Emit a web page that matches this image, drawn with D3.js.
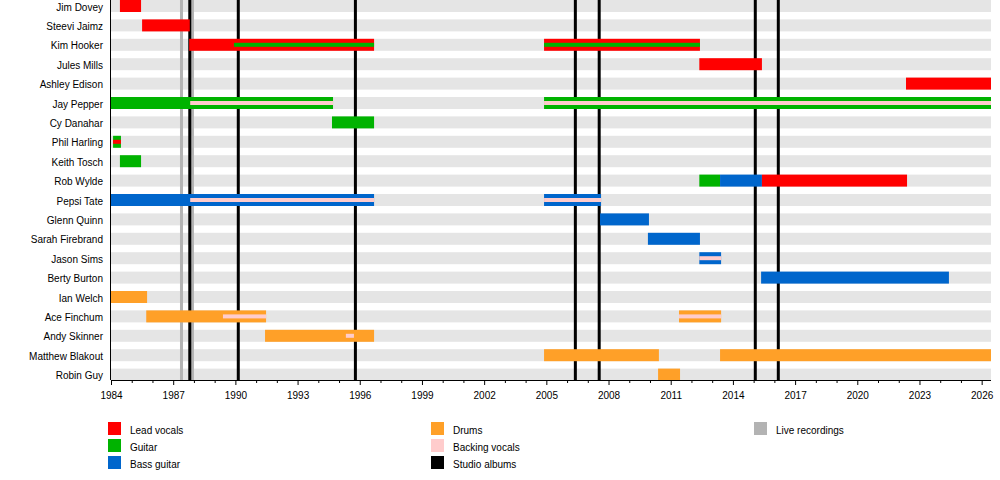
<!DOCTYPE html>
<html>
<head>
<meta charset="utf-8">
<script src="https://cdn.jsdelivr.net/npm/d3@7/dist/d3.min.js"></script>
<style>
  body { margin: 0; background: #fff; }
  svg text { font-family: "Liberation Sans", Arial, sans-serif; font-size: 10px; fill: #000; }
</style>
</head>
<body>
<div id="chart"></div>
<script>
// 成员（从上到下）
const members = [
  'Jim Dovey', 'Steevi Jaimz', 'Kim Hooker', 'Jules Mills', 'Ashley Edison',
  'Jay Pepper', 'Cy Danahar', 'Phil Harling', 'Keith Tosch', 'Rob Wylde',
  'Pepsi Tate', 'Glenn Quinn', 'Sarah Firebrand', 'Jason Sims', 'Berty Burton',
  'Ian Welch', 'Ace Finchum', 'Andy Skinner', 'Matthew Blakout', 'Robin Guy'
];

const END = 2026.45;

// [成员, 角色, 开始, 结束]  — 主条
const mainStints = [
  ['Jim Dovey', 'vocals', 1984.43, 1985.45],
  ['Steevi Jaimz', 'vocals', 1985.5, 1987.8],
  ['Kim Hooker', 'vocals', 1987.77, 1996.69],
  ['Kim Hooker', 'vocals', 2004.89, 2012.41],
  ['Jules Mills', 'vocals', 2012.38, 2015.4],
  ['Ashley Edison', 'vocals', 2022.35, END],
  ['Jay Pepper', 'guitar', 1984, 1994.71],
  ['Jay Pepper', 'guitar', 2004.89, END],
  ['Cy Danahar', 'guitar', 1994.66, 1996.69],
  ['Phil Harling', 'guitar', 1984.1, 1984.48],
  ['Keith Tosch', 'guitar', 1984.43, 1985.45],
  ['Rob Wylde', 'guitar', 2012.38, 2013.38],
  ['Rob Wylde', 'bass', 2013.38, 2015.4],
  ['Rob Wylde', 'vocals', 2015.4, 2022.4],
  ['Pepsi Tate', 'bass', 1984, 1996.69],
  ['Pepsi Tate', 'bass', 2004.89, 2007.64],
  ['Glenn Quinn', 'bass', 2007.59, 2009.95],
  ['Sarah Firebrand', 'bass', 2009.9, 2012.41],
  ['Jason Sims', 'bass', 2012.38, 2013.43],
  ['Berty Burton', 'bass', 2015.36, 2024.42],
  ['Ian Welch', 'drums', 1984, 1985.74],
  ['Ace Finchum', 'drums', 1985.7, 1991.48],
  ['Ace Finchum', 'drums', 2011.4, 2013.43],
  ['Andy Skinner', 'drums', 1991.43, 1996.69],
  ['Matthew Blakout', 'drums', 2004.89, 2010.43],
  ['Matthew Blakout', 'drums', 2013.38, END],
  ['Robin Guy', 'drums', 2010.39, 2011.45]
];

// 次要角色 — 细条
const innerStints = [
  ['Kim Hooker', 'guitar', 1989.93, 1996.69],
  ['Kim Hooker', 'guitar', 2004.89, 2012.41],
  ['Jay Pepper', 'backing', 1987.82, 1994.71],
  ['Jay Pepper', 'backing', 2004.89, END],
  ['Phil Harling', 'vocals', 1984.1, 1984.48],
  ['Pepsi Tate', 'backing', 1987.82, 1996.69],
  ['Pepsi Tate', 'backing', 2004.89, 2007.64],
  ['Jason Sims', 'backing', 2012.38, 2013.43],
  ['Ace Finchum', 'backing', 1989.4, 1991.48],
  ['Ace Finchum', 'backing', 2011.4, 2013.43],
  ['Andy Skinner', 'backing', 1995.33, 1995.72]
];

const studioAlbums = [1987.8, 1990.14, 1995.79, 2006.4, 2007.55, 2015.08, 2016.19];
const liveRecordings = [1987.4, 1987.93];

const tickYears = d3.range(1984, 2027);

const legendLabels = [
  ['vocals', 'Lead vocals'], ['guitar', 'Guitar'], ['bass', 'Bass guitar'],
  ['drums', 'Drums'], ['backing', 'Backing vocals'], ['albums', 'Studio albums'],
  ['live', 'Live recordings']
];

const colors = {
  vocals: '#ff0000',
  guitar: '#00b300',
  bass: '#0066cc',
  drums: '#ffa028',
  backing: '#ffcccc',
  albums: '#000000',
  live: '#b3b3b3'
};

const width = 1000, height = 480;
const svg = d3.select('#chart').append('svg')
  .attr('width', width).attr('height', height);

const x = d3.scaleLinear().domain([1984, END]).range([111, 991]);
const y = d3.scalePoint().domain(members).range([6, 6 + 19.4 * (members.length - 1)]);
const bandH = 12, innerH = 4;
const axisY = 380;

// 背景条
svg.append('g').selectAll('rect').data(members).join('rect')
  .attr('x', x.range()[0]).attr('width', x.range()[1] - x.range()[0])
  .attr('y', d => y(d) - bandH / 2).attr('height', bandH)
  .attr('fill', '#e5e5e5');

// 竖线
const lines = svg.append('g');
lines.selectAll('.live').data(liveRecordings).join('line')
  .attr('class', 'live')
  .attr('x1', d => x(d)).attr('x2', d => x(d))
  .attr('y1', 0).attr('y2', axisY)
  .attr('stroke', colors.live).attr('stroke-width', 3);
lines.selectAll('.album').data(studioAlbums).join('line')
  .attr('class', 'album')
  .attr('x1', d => x(d)).attr('x2', d => x(d))
  .attr('y1', 0).attr('y2', axisY)
  .attr('stroke', colors.albums).attr('stroke-width', 3);

// 成员条
svg.append('g').selectAll('rect').data(mainStints).join('rect')
  .attr('x', d => x(d[2])).attr('width', d => x(d[3]) - x(d[2]))
  .attr('y', d => y(d[0]) - bandH / 2).attr('height', bandH)
  .attr('fill', d => colors[d[1]]);

svg.append('g').selectAll('rect').data(innerStints).join('rect')
  .attr('x', d => x(d[2])).attr('width', d => x(d[3]) - x(d[2]))
  .attr('y', d => y(d[0]) - innerH / 2).attr('height', innerH)
  .attr('fill', d => colors[d[1]]);

// 名字
svg.append('g').selectAll('text').data(members).join('text')
  .attr('x', 103).attr('y', d => y(d) + 4.5)
  .attr('text-anchor', 'end')
  .text(d => d);

// 左边线
svg.append('line')
  .attr('x1', 110.5).attr('x2', 110.5).attr('y1', 0).attr('y2', axisY)
  .attr('stroke', '#000');

// x 轴
const axis = d3.axisBottom(x)
  .tickValues(tickYears)
  .tickSize(3)
  .tickFormat(d => (d - 1984) % 3 === 0 ? d : '');
const gx = svg.append('g').attr('transform', `translate(0,${axisY})`).call(axis);
gx.select('.domain').attr('d', `M${x(1984)},0.5H${x(END)}`).attr('stroke', '#000');
gx.selectAll('.tick line')
  .attr('y2', d => (d - 1984) % 3 === 0 ? 5 : 3)
  .attr('stroke', '#000');
gx.selectAll('.tick text')
  .attr('y', 12)
  .style('font-family', '"Liberation Sans", Arial, sans-serif')
  .style('font-size', '10px');

// 图例
const legendCols = [108, 431, 754];
const legendRows = [422, 439, 456];
const legend = svg.append('g').selectAll('g').data(legendLabels).join('g')
  .attr('transform', (d, i) =>
    `translate(${legendCols[Math.floor(i / 3)]},${legendRows[i % 3]})`);
legend.append('rect')
  .attr('width', 13).attr('height', 13)
  .attr('fill', d => colors[d[0]]);
legend.append('text')
  .attr('x', 22).attr('y', 11.5)
  .text(d => d[1]);
</script>
</body>
</html>
